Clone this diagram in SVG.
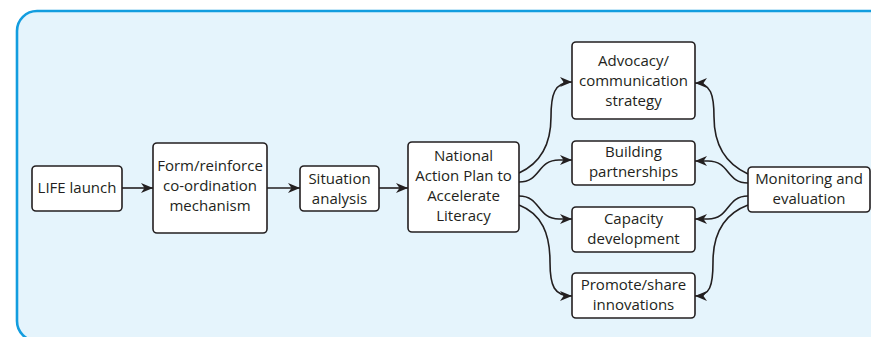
<svg xmlns="http://www.w3.org/2000/svg" width="871" height="337" viewBox="0 0 871 337">
  <style>
    .box { fill: #ffffff; stroke: #231f20; stroke-width: 1.6; }
    .lbl { font-family: "Open Sans", "Liberation Sans", sans-serif; font-size: 15px; fill: #231f20; text-anchor: middle; }
    .con { fill: none; stroke: #231f20; stroke-width: 1.6; marker-end: url(#arr); }
  </style>
  <defs>
    <marker id="arr" viewBox="0 0 12 10" refX="12" refY="5" markerWidth="12" markerHeight="10" markerUnits="userSpaceOnUse" orient="auto">
      <path d="M0,0 L12,5 L0,10 L3.5,5 Z" fill="#231f20"/>
    </marker>
  </defs>
  <rect x="17" y="11" width="880" height="330" rx="20" ry="20" fill="#e5f4fc" stroke="#129ddf" stroke-width="2.6"/>

  <g id="connectors">
    <path class="con" d="M122,188 L153,188"/>
    <path class="con" d="M267,188 L300,188"/>
    <path class="con" d="M379,188 L408,188"/>
    <path class="con" d="M519,173 C543,162 551,142 551,117 C551,95 554,82 572,82"/>
    <path class="con" d="M519,182 C541,182 537,160 559,160 L572,160"/>
    <path class="con" d="M519,196 C541,196 537,219 559,219 L572,219"/>
    <path class="con" d="M519,205 C542,214 550,234 550,262 C550,286 554,296 572,296"/>
    <path class="con" d="M748,174 C724,163 714,142 714,117 C714,95 711,83 695,83"/>
    <path class="con" d="M748,183 C726,183 730,161 708,161 L695,161"/>
    <path class="con" d="M748,196 C726,196 730,219 708,219 L695,219"/>
    <path class="con" d="M748,205 C724,214 713,234 713,262 C713,286 710,296 695,296"/>
  </g>

  <g id="life">
    <rect class="box" x="32" y="166" width="90" height="45" rx="4"/>
    <text class="lbl" x="77" y="193">LIFE launch</text>
  </g>
  <g id="form">
    <rect class="box" x="153" y="143" width="114" height="90" rx="4"/>
    <text class="lbl" x="210" y="171">Form/reinforce</text>
    <text class="lbl" x="210" y="191">co-ordination</text>
    <text class="lbl" x="210" y="211">mechanism</text>
  </g>
  <g id="situation">
    <rect class="box" x="300" y="166" width="79" height="45" rx="4"/>
    <text class="lbl" x="339.5" y="184">Situation</text>
    <text class="lbl" x="339.5" y="204">analysis</text>
  </g>
  <g id="nap">
    <rect class="box" x="408" y="142" width="111" height="90" rx="4"/>
    <text class="lbl" x="463.5" y="161">National</text>
    <text class="lbl" x="463.5" y="181">Action Plan to</text>
    <text class="lbl" x="463.5" y="201">Accelerate</text>
    <text class="lbl" x="463.5" y="221">Literacy</text>
  </g>
  <g id="advocacy">
    <rect class="box" x="572" y="42" width="123" height="77" rx="4"/>
    <text class="lbl" x="633.5" y="65.5">Advocacy/</text>
    <text class="lbl" x="633.5" y="85.5">communication</text>
    <text class="lbl" x="633.5" y="105.5">strategy</text>
  </g>
  <g id="building">
    <rect class="box" x="572" y="141" width="123" height="44" rx="4"/>
    <text class="lbl" x="633.5" y="157">Building</text>
    <text class="lbl" x="633.5" y="177">partnerships</text>
  </g>
  <g id="capacity">
    <rect class="box" x="572" y="207" width="123" height="45" rx="4"/>
    <text class="lbl" x="633.5" y="223.5">Capacity</text>
    <text class="lbl" x="633.5" y="243.5">development</text>
  </g>
  <g id="promote">
    <rect class="box" x="572" y="273" width="123" height="45" rx="4"/>
    <text class="lbl" x="633.5" y="290">Promote/share</text>
    <text class="lbl" x="633.5" y="310">innovations</text>
  </g>
  <g id="monitoring">
    <rect class="box" x="748" y="167" width="122" height="45" rx="4"/>
    <text class="lbl" x="809" y="183.5">Monitoring and</text>
    <text class="lbl" x="809" y="203.5">evaluation</text>
  </g>
</svg>
